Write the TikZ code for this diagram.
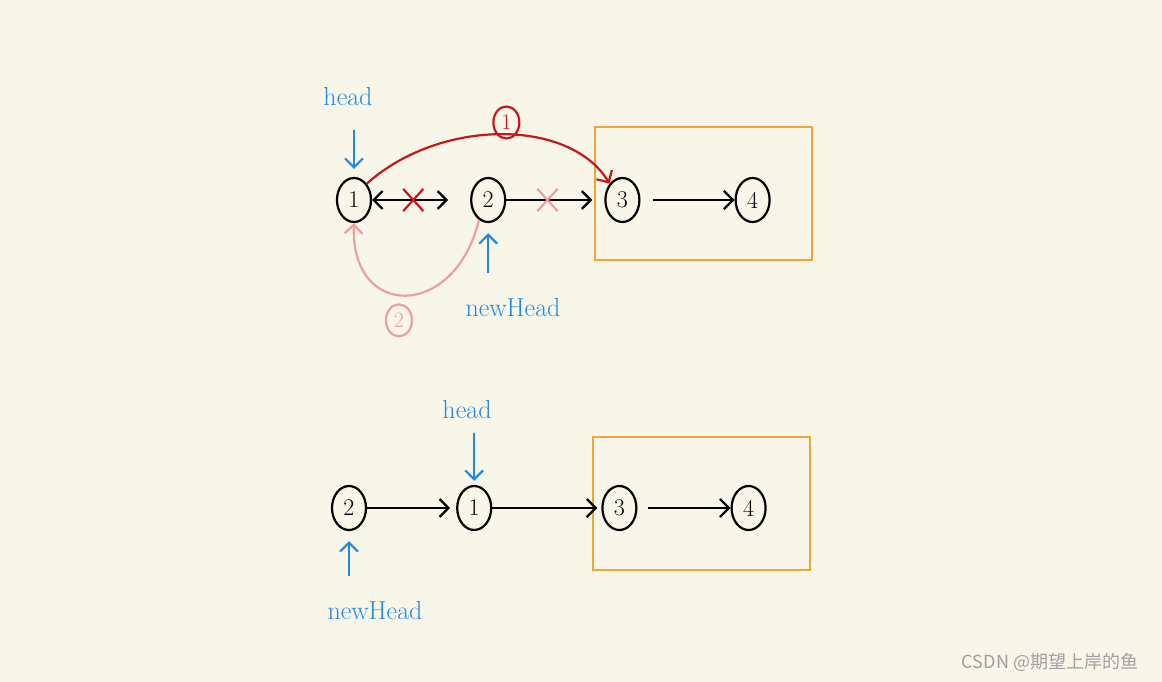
\documentclass[tikz,border=0pt]{standalone}
\usepackage{fontspec}
\newfontfamily\cjk{Noto Sans CJK SC}
\usetikzlibrary{arrows.meta,positioning,shapes.geometric,shapes.misc}
\definecolor{paper}{HTML}{F8F5E9}
\definecolor{penblue}{HTML}{2388E0}
\definecolor{penred}{HTML}{C8161E}
\definecolor{penpink}{HTML}{EBA0A0}
\definecolor{boxorange}{HTML}{F2A33A}
\definecolor{mark}{HTML}{A0A0A0}
\tikzset{
    %Define standard arrow tip
    >={Straight Barb[length=9pt,width=18pt]},
    %Define style for list elements
    elem/.style={
      ellipse,
      draw=black, line width=2.2pt,
      inner sep=0pt,
      minimum width=34pt,
      minimum height=44pt,
      font=\fontsize{24}{24}\selectfont},
    % Define style for the fixed tail
    tailbox/.style={
      rectangle,
      draw=boxorange, line width=2pt,
      minimum width=217pt,
      minimum height=133pt},
    % Define style for pointer names
    ptrname/.style={
      text=penblue,
      font=\fontsize{26}{26}\selectfont},
    % Define arrow styles
    link/.style={
      ->,
      line width=2.2pt},
    ptr/.style={
      ->,
      draw=penblue,
      line width=2.2pt},
    cut/.style={
      -,
      shorten <=0pt,
      shorten >=0pt,
      cross out,
      draw=#1,
      line width=2.2pt,
      minimum width=18pt,
      minimum height=20pt},
    tag/.style={
      ellipse,
      draw=#1, text=#1,
      line width=2.2pt,
      inner sep=0pt,
      minimum width=26pt,
      minimum height=32pt,
      font=\fontsize{22}{22}\selectfont}
}
\begin{document}
\begin{tikzpicture}[x=1pt, y=-1pt]
    \fill[paper] (0,0) rectangle (1162,682);
    % before: 1 -> 2 -> 3 -> 4
    \node[elem] (t1) at (354,200) {1};
    \node[elem, right=98pt of t1] (t2) {2};
    \node[elem, right=98pt of t2] (t3) {3};
    \node[elem, right=94pt of t3] (t4) {4};
    \node[tailbox] (tail1) at (703.5,193.5) {};
    \node[ptrname] (head1) at (348,97) {head};
    \node[ptrname] (newh1) at (513,308) {newHead};
    \draw[ptr, shorten <=20pt, shorten >=8pt] (head1.south -| t1.north) -- (t1.north);
    \draw[ptr, shorten <=22pt, shorten >=10pt] (newh1.north -| t2.south) -- (t2.south);
    \draw[link, <->, shorten >=22pt] (t1) -- (t2)
      node[cut=penred, pos=.42] (x1) {};
    \draw[link, shorten >=12pt] (t2) -- (t3)
      node[cut=penpink, pos=.42] (x2) {};
    \draw[link, shorten <=12pt] (t3) -- (t4);
    % first: 1.next = 2.next
    \draw[->, penred, line width=2.2pt] (t1.north east) .. controls (440,118) and (570,118) .. (t3.north west)
      node[tag=penred, pos=.52, yshift=12pt] (lab1) {1};
    % then: 2.next = 1
    \draw[->, penpink, line width=2.2pt] (t2.-115) .. controls (455,320) and (350,320) .. (t1.south)
      node[tag=penpink, pos=.5, xshift=-7pt, yshift=-25pt] (lab2) {2};
    % after: 2 -> 1 -> 3 -> 4
    \node[elem] (b2) at (349,508) {2};
    \node[elem, right=89pt of b2] (b1) {1};
    \node[elem, right=109pt of b1] (b3) {3};
    \node[elem, right=93pt of b3] (b4) {4};
    \node[tailbox] (tail2) at (701.5,503.5) {};
    \node[ptrname] (head2) at (467,410) {head};
    \node[ptrname] (newh2) at (375,611) {newHead};
    \draw[ptr, shorten <=10pt, shorten >=4pt] (head2.south -| b1.north) -- (b1.north);
    \draw[ptr, shorten <=22pt, shorten >=10pt] (newh2.north -| b2.south) -- (b2.south);
    \draw[link, shorten >=6pt] (b2) -- (b1);
    \draw[link, shorten >=4pt] (b1) -- (b3);
    \draw[link, shorten <=10pt] (b3) -- (b4);
    \node[text=mark, font=\cjk\fontsize{18}{18}\selectfont] (wm) at (1050,662) {CSDN @期望上岸的鱼};
\end{tikzpicture}
\end{document}
